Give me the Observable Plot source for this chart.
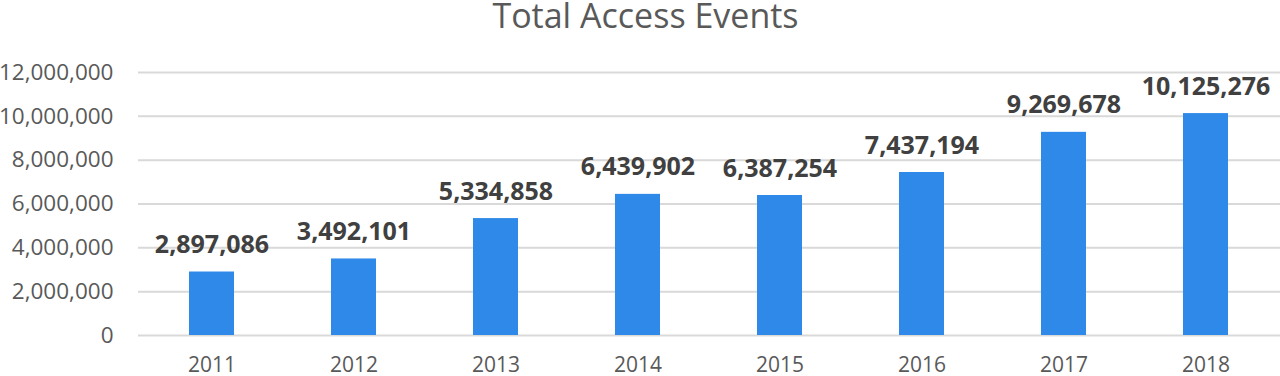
<!DOCTYPE html>
<html>
<head>
<meta charset="utf-8">
<script src="https://cdn.jsdelivr.net/npm/d3@7"></script>
<script src="https://cdn.jsdelivr.net/npm/@observablehq/plot@0.6"></script>
<style>
  html, body { margin: 0; padding: 0; background: #fff; }
  #chart svg { display: block; }
</style>
</head>
<body>
<div id="chart"></div>
<script>
const years = ["2011", "2012", "2013", "2014", "2015", "2016", "2017", "2018"];
const events = [2897086, 3492101, 5334858, 6439902, 6387254, 7437194, 9269678, 10125276];
const yTicks = [0, 2000000, 4000000, 6000000, 8000000, 10000000, 12000000];
const title = "Total Access Events";

const data = years.map((y, i) => ({year: y, value: events[i]}));
const fmt = d3.format(",");
const font = "'Open Sans', sans-serif";

const chart = Plot.plot({
  width: 1280,
  height: 376,
  marginLeft: 138,
  marginRight: 0,
  marginTop: 72,
  marginBottom: 41,
  style: {fontFamily: font, background: "#fff"},
  x: {domain: years, paddingInner: 0.68, paddingOuter: 0.34, label: null},
  y: {domain: [0, 12000000], label: null},
  marks: [
    Plot.ruleY(yTicks, {stroke: "#d9d9d9", strokeWidth: 2}),
    Plot.axisY(yTicks, {tickSize: 0, tickPadding: 25, tickFormat: fmt, fontSize: 22.5, fill: "#595959", label: null}),
    Plot.axisX({tickSize: 0, tickPadding: 22, fontSize: 21, fill: "#595959", label: null}),
    Plot.barY(data, {x: "year", y: "value", fill: "#2e89e8"}),
    Plot.text(data, {x: "year", y: "value", text: d => fmt(d.value), dy: -19, lineAnchor: "bottom", fontSize: 25, fontWeight: "bold", fill: "#404040"}),
    Plot.text([title], {frameAnchor: "top", dx: -64, dy: -45, lineAnchor: "bottom", text: d => d, fontSize: 34, fill: "#595959"})
  ]
});
document.getElementById("chart").append(chart);
</script>
</body>
</html>
